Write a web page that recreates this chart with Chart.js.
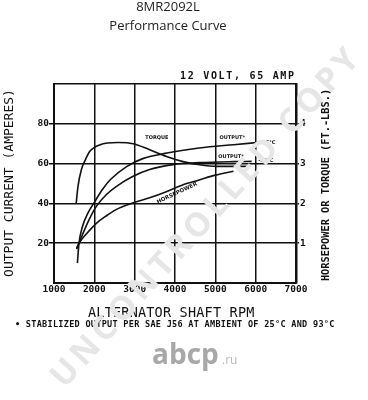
<!DOCTYPE html>
<html>
<head>
<meta charset="utf-8">
<title>8MR2092L Performance Curve</title>
<script src="https://cdn.jsdelivr.net/npm/chart.js@4.4.1/dist/chart.umd.min.js"></script>
<style>
  html, body { margin: 0; padding: 0; background: #fff; }
  #wrap { position: relative; width: 368px; height: 400px; }
</style>
</head>
<body>
<div id="wrap"><canvas id="perfChart" width="368" height="400"></canvas></div>
<script>
// values
// x = alternator shaft rpm, left axis = amperes, right axis = hp or ft-lb
const rpmTicks = [1000, 2000, 3000, 4000, 5000, 6000, 7000];
const ampTicks = [0, 20, 40, 60, 80, 100];
const powerTicks = [0, 1, 2, 3, 4, 5];

const output25Rpm = [1580, 1620, 1700, 1850, 2000, 2200, 2400, 2800, 3200, 3800, 4600, 5450, 6100];
const output25Amps = [10, 20, 28, 35.5, 40.5, 47, 52, 58.5, 62.5, 65.3, 67.8, 69.5, 70.7];

const output93Rpm = [1560, 1700, 1850, 2050, 2300, 2550, 2950, 3370, 3950, 4600, 5450, 5900];
const output93Amps = [17, 24, 31, 38.5, 44.5, 48.6, 53.5, 57, 59.5, 60.5, 61, 61.1];

const torqueRpm = [1550, 1595, 1680, 1780, 1880, 2130, 2590, 2960, 3370, 3790, 4200, 4610, 5030, 5780];
const torqueFtLb = [2.0, 2.43, 2.85, 3.1, 3.3, 3.47, 3.53, 3.5, 3.35, 3.18, 3.05, 2.97, 2.93, 2.93];

const hpRpm = [1560, 1640, 1800, 2050, 2300, 2550, 2950, 3370, 3800, 4200, 4600, 5000, 5450];
const hpValues = [0.88, 1.03, 1.23, 1.5, 1.69, 1.85, 2.01, 2.14, 2.3, 2.47, 2.59, 2.71, 2.81];

const ink = "#111";
const monoBold = (size) => ({ family: "DejaVu Sans Mono", size: size, weight: "bold" });

function points(xs, ys) {
  return xs.map((x, i) => ({ x: x, y: ys[i] }));
}

function curve(label, xs, ys, axis) {
  return {
    label: label,
    data: points(xs, ys),
    yAxisID: axis,
    borderColor: ink,
    borderWidth: 1.6,
    pointRadius: 0,
    fill: false,
    cubicInterpolationMode: "monotone"
  };
}

// all the printed text of the sheet + the scan watermark
const sheetText = {
  id: "sheetText",
  afterDraw(chart) {
    const ctx = chart.ctx;
    const sx = chart.scales.x;
    const sy = chart.scales.y;
    ctx.save();
    ctx.fillStyle = ink;

    // small labels inside the plot
    ctx.textAlign = "center";
    ctx.textBaseline = "middle";
    ctx.font = 'bold 5px "DejaVu Sans"';
    ctx.fillText("TORQUE", sx.getPixelForValue(3550), sy.getPixelForValue(72.8));
    ctx.fillText("OUTPUT*", sx.getPixelForValue(5420), sy.getPixelForValue(72.8));
    ctx.fillText("-25°C", sx.getPixelForValue(6300), sy.getPixelForValue(70.7));
    ctx.fillText("OUTPUT*", sx.getPixelForValue(5390), sy.getPixelForValue(63.3));
    ctx.fillText("-93°C", sx.getPixelForValue(6250), sy.getPixelForValue(61.3));
    ctx.save();
    ctx.translate(sx.getPixelForValue(4050), sy.getPixelForValue(45.2));
    ctx.rotate(-25 * Math.PI / 180);
    ctx.font = 'bold 5.5px "DejaVu Sans"';
    ctx.fillText("HORSEPOWER", 0, 0);
    ctx.restore();

    // headings
    ctx.fillStyle = "#222";
    ctx.textBaseline = "alphabetic";
    ctx.font = '13px "Open Sans"';
    ctx.fillText("8MR2092L", 168, 11);
    ctx.fillText("Performance Curve", 168, 30);

    ctx.fillStyle = ink;
    ctx.textAlign = "left";
    ctx.font = 'bold 10px "DejaVu Sans Mono"';
    ctx.letterSpacing = "1.7px";
    ctx.fillText("12 VOLT, 65 AMP", 180, 78.5);

    ctx.font = '13.5px "DejaVu Sans Mono"';
    ctx.letterSpacing = "0.2px";
    ctx.fillText("ALTERNATOR SHAFT RPM", 88, 317);

    ctx.font = 'bold 8.5px "DejaVu Sans Mono"';
    ctx.letterSpacing = "0.3px";
    ctx.fillText("• STABILIZED OUTPUT PER SAE J56 AT AMBIENT OF 25°C AND 93°C", 15, 327);
    ctx.letterSpacing = "0px";

    ctx.textAlign = "center";
    ctx.textBaseline = "middle";
    ctx.save();
    ctx.translate(10, 183);
    ctx.rotate(-Math.PI / 2);
    ctx.font = '13px "DejaVu Sans Mono"';
    ctx.fillText("OUTPUT CURRENT (AMPERES)", 0, 0);
    ctx.restore();

    ctx.save();
    ctx.translate(326, 185);
    ctx.rotate(-Math.PI / 2);
    ctx.font = 'bold 10.3px "DejaVu Sans Mono"';
    ctx.fillText("HORSEPOWER OR TORQUE (FT.-LBS.)", 0, 0);
    ctx.restore();

    // watermark over the scan
    ctx.save();
    ctx.translate(207, 217);
    ctx.rotate(-48 * Math.PI / 180);
    ctx.font = 'bold 33px "Open Sans"';
    ctx.letterSpacing = "4.5px";
    ctx.fillStyle = "#e6e6e6";
    ctx.fillText("UNCONTROLLED COPY", 0, 0);
    ctx.restore();

    // site logo
    ctx.textAlign = "left";
    ctx.textBaseline = "alphabetic";
    ctx.font = 'bold 28px "Open Sans"';
    ctx.letterSpacing = "0px";
    ctx.fillStyle = "#a8a8a8";
    ctx.fillText("abcp", 152, 364);
    ctx.font = '12px "Open Sans"';
    ctx.fillStyle = "#b8b8b8";
    ctx.fillText(".ru", 222, 364);

    ctx.restore();
  }
};

const hideEnds = (lo, hi) => (ctx) =>
  (ctx.tick && (ctx.tick.value === lo || ctx.tick.value === hi)) ? "rgba(0,0,0,0)" : ink;

new Chart(document.getElementById("perfChart"), {
  type: "line",
  data: {
    datasets: [
      curve("Torque", torqueRpm, torqueFtLb, "y1"),
      curve("Output 25°C", output25Rpm, output25Amps, "y"),
      curve("Output 93°C", output93Rpm, output93Amps, "y"),
      curve("Horsepower", hpRpm, hpValues, "y1")
    ]
  },
  options: {
    responsive: false,
    animation: false,
    layout: { padding: { top: 84, left: 0, right: 0, bottom: 0 } },
    plugins: { legend: { display: false }, tooltip: { enabled: false } },
    scales: {
      x: {
        type: "linear",
        min: 1000,
        max: 7000,
        afterBuildTicks: (s) => { s.ticks = rpmTicks.map((v) => ({ value: v })); },
        afterFit: (s) => { s.height = 117; },
        grid: { color: ink, lineWidth: 1.5, drawTicks: false },
        border: { color: ink, width: 2 },
        ticks: {
          color: ink,
          font: monoBold(9.5),
          padding: 1,
          maxRotation: 0,
          autoSkip: false,
          callback: (v) => String(v)
        }
      },
      y: {
        position: "left",
        min: 0,
        max: 100,
        afterBuildTicks: (s) => { s.ticks = ampTicks.map((v) => ({ value: v })); },
        afterFit: (s) => { s.width = 54; },
        grid: { color: ink, lineWidth: 1.5, tickLength: 5, tickColor: hideEnds(0, 100) },
        border: { color: ink, width: 2 },
        ticks: {
          color: ink,
          font: monoBold(9.5),
          padding: 0,
          callback: (v) => (v === 0 || v === 100) ? "" : String(v)
        }
      },
      y1: {
        position: "right",
        min: 0,
        max: 5,
        afterBuildTicks: (s) => { s.ticks = powerTicks.map((v) => ({ value: v })); },
        afterFit: (s) => { s.width = 72; },
        grid: { drawOnChartArea: false, tickLength: 3, lineWidth: 1.5, tickColor: hideEnds(0, 5) },
        border: { color: ink, width: 2.5 },
        ticks: {
          color: ink,
          font: monoBold(9.5),
          padding: 1,
          callback: (v) => (v === 0 || v === 5) ? "" : String(v)
        }
      }
    }
  },
  plugins: [sheetText]
});
</script>
</body>
</html>
